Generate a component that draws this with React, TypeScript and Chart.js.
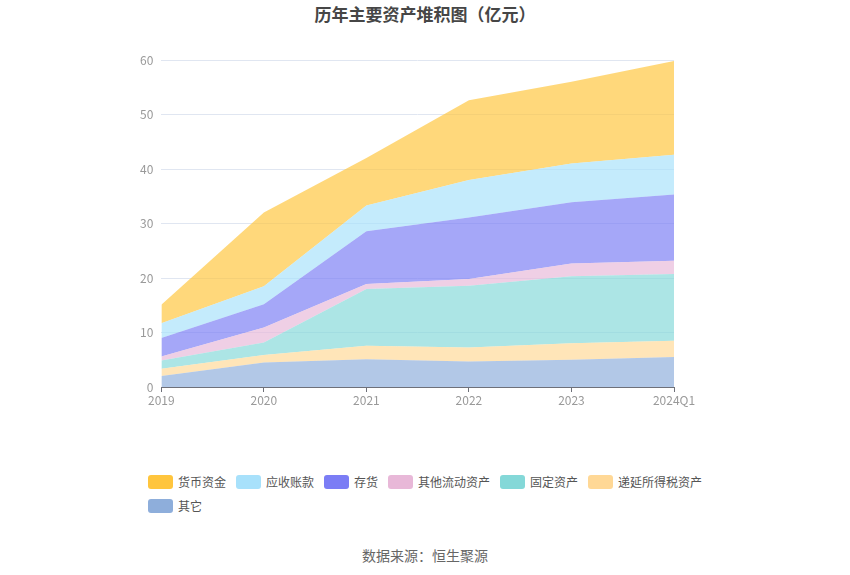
import React, { useEffect, useRef } from "react";
import { Chart, registerables } from "chart.js";

Chart.register(...registerables);

const categories = ["2019", "2020", "2021", "2022", "2023", "2024Q1"];
const yTicks = [0, 10, 20, 30, 40, 50, 60];

const otherValues = [2.0, 4.5, 5.1, 4.7, 5.0, 5.5];
const deferredTaxValues = [1.35, 1.35, 2.45, 2.55, 3.05, 3.0];
const fixedAssetValues = [1.5, 2.3, 10.45, 11.35, 12.25, 12.25];
const otherCurrentValues = [0.75, 2.75, 0.9, 1.2, 2.35, 2.4];
const inventoryValues = [3.4, 4.3, 9.7, 11.3, 11.25, 12.15];
const receivableValues = [2.7, 3.3, 4.7, 6.9, 7.1, 7.3];
const cashValues = [3.4, 13.5, 8.7, 14.6, 15.0, 17.2];

// bottom-up stacking order
const seriesNames = ["其它", "递延所得税资产", "固定资产", "其他流动资产", "存货", "应收账款", "货币资金"];
const seriesValues = [otherValues, deferredTaxValues, fixedAssetValues, otherCurrentValues, inventoryValues, receivableValues, cashValues];
const seriesColors = ["#8EAEDB", "#FFD896", "#84D8D8", "#E8B8D8", "#7B7DF5", "#A8E1FB", "#FFC53D"];

const FONT = "'Noto Sans CJK SC', 'Noto Sans', sans-serif";

function hexToRgba(hex: string, a: number) {
  const n = parseInt(hex.slice(1), 16);
  return `rgba(${(n >> 16) & 255},${(n >> 8) & 255},${n & 255},${a})`;
}

export default function App() {
  const canvasRef = useRef<HTMLCanvasElement | null>(null);

  useEffect(() => {
    document.body.style.margin = "0";
    const ctx = canvasRef.current!.getContext("2d")!;
    const chart = new Chart(ctx, {
      type: "line",
      data: {
        labels: categories,
        datasets: seriesNames.map((name, i) => ({
          label: name,
          data: seriesValues[i],
          backgroundColor: hexToRgba(seriesColors[i], 0.68),
          borderColor: "rgba(0,0,0,0)",
          borderWidth: 0,
          pointRadius: 0,
          pointHoverRadius: 0,
          tension: 0,
          fill: i === 0 ? "origin" : "-1",
        })),
      },
      options: {
        animation: false,
        responsive: false,
        maintainAspectRatio: false,
        layout: { padding: { top: 60, left: 132, right: 176, bottom: 11.6 } },
        plugins: {
          legend: { display: false },
          title: { display: false },
          tooltip: { enabled: false },
        },
        scales: {
          x: {
            type: "category",
            offset: false,
            z: 1,
            grid: {
              display: true,
              drawOnChartArea: false,
              drawTicks: true,
              tickLength: 5,
              color: "#6E7079",
            },
            border: { display: true, color: "#6E7079", width: 1 },
            ticks: {
              color: "#999999",
              font: { family: FONT, size: 12 },
              padding: 1,
              maxRotation: 0,
              autoSkip: false,
            },
          },
          y: {
            stacked: true,
            min: 0,
            max: 60,
            afterBuildTicks: (scale: any) => {
              scale.ticks = yTicks.map((v) => ({ value: v }));
            },
            grid: { color: "#E0E6F1", drawTicks: false, lineWidth: 1 },
            border: { display: false },
            ticks: {
              color: "#999999",
              font: { family: FONT, size: 12 },
              padding: 8,
            },
          },
        },
      },
    });
    return () => chart.destroy();
  }, []);

  const legendOrder = seriesNames.map((n, i) => i).reverse();

  return (
    <div style={{ position: "relative", width: 850, height: 575, background: "#fff", fontFamily: FONT }}>
      <div
        style={{
          position: "absolute",
          top: 2,
          left: 0,
          width: 850,
          textAlign: "center",
          fontSize: 17,
          fontWeight: "bold",
          color: "#464646",
          lineHeight: "24px",
        }}
      >
        历年主要资产堆积图（亿元）
      </div>
      <canvas ref={canvasRef} width={850} height={420} style={{ position: "absolute", top: 0, left: 0, width: 850, height: 420 }} />
      <div
        style={{
          position: "absolute",
          top: 475,
          left: 148,
          width: 600,
          display: "flex",
          flexWrap: "wrap",
          rowGap: 10,
        }}
      >
        {legendOrder.map((i) => (
          <div key={seriesNames[i]} style={{ display: "flex", alignItems: "center", marginRight: 10, height: 14, flexShrink: 0 }}>
            <div style={{ width: 25, height: 14, borderRadius: 3, background: seriesColors[i], marginRight: 5 }} />
            <span style={{ fontSize: 12, color: "#555", lineHeight: "14px", whiteSpace: "nowrap" }}>{seriesNames[i]}</span>
          </div>
        ))}
      </div>
      <div
        style={{
          position: "absolute",
          top: 546,
          left: 0,
          width: 850,
          textAlign: "center",
          fontSize: 14,
          color: "#666",
          lineHeight: "18px",
        }}
      >
        数据来源：恒生聚源
      </div>
    </div>
  );
}
